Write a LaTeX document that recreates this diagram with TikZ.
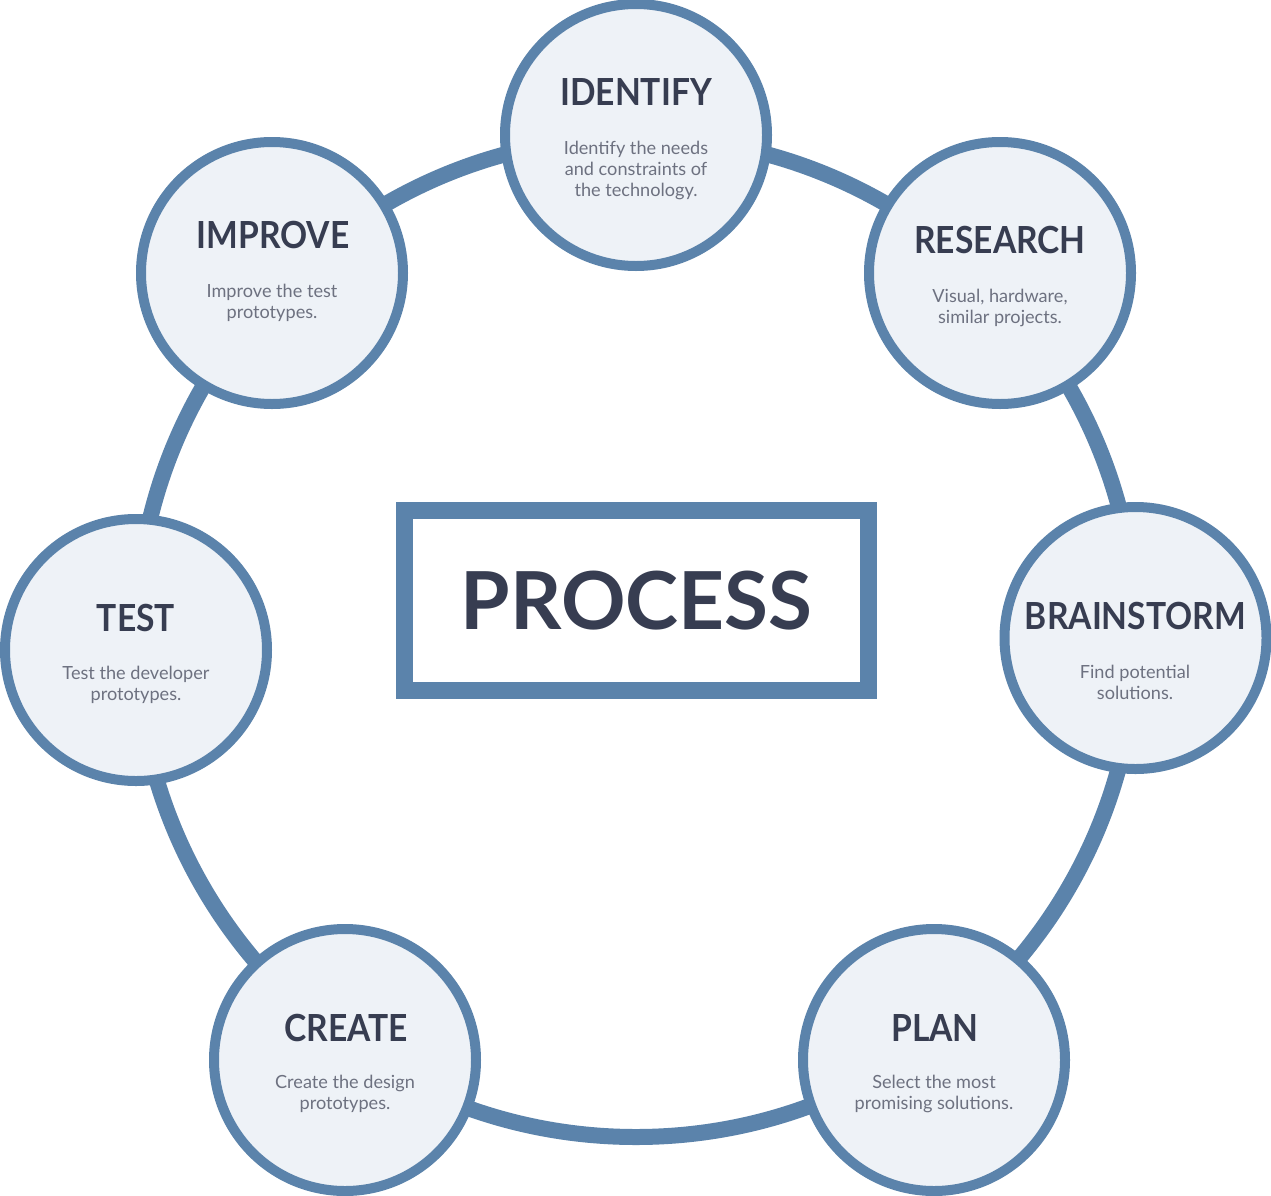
\documentclass[tikz,border=0pt]{standalone}
\usepackage{fontspec}
\setmainfont{Lato}
\newfontfamily\stagefont{Lato}[FakeStretch=0.9]
\definecolor{ringblue}{HTML}{5B83AB}
\definecolor{stagefill}{HTML}{EEF2F7}
\definecolor{titlegray}{HTML}{373D51}
\definecolor{bodygray}{HTML}{6D7180}
\tikzstyle{ring} = [draw=ringblue, line width=12pt]
\tikzstyle{stage} = [draw=ringblue, fill=stagefill, shape=circle, line width=7.5pt, minimum size=196.5pt, inner sep=0pt]
\tikzstyle{title} = [anchor=base, text=titlegray, font=\stagefont\bfseries\fontsize{28}{30}\selectfont, inner sep=0pt]
\tikzstyle{body} = [anchor=base, text=bodygray, align=center, font=\fontsize{13.6}{15.75}\selectfont, inner sep=0pt]
\tikzstyle{frame} = [draw=ringblue, line width=12.75pt, minimum width=348pt, minimum height=135pt, text=titlegray, font=\bfseries\fontsize{60}{60}\selectfont]

\begin{document}
\begin{tikzpicture}[x=0.75pt, y=-0.75pt]
    \useasboundingbox (0,0) rectangle (1271,1196);
    \coordinate (hub) at (636,637);
    \draw[ring] (hub) circle (500);
    \draw (636.5,600.5) node[frame] (process) {PROCESS};
    % stages round the ring
    \draw (636,135) node[stage] (identify) {};
    \draw (1000,273) node[stage] (research) {};
    \draw (1135.5,638) node[stage] (brainstorm) {};
    \draw (934,1060) node[stage] (plan) {};
    \draw (345,1060) node[stage] (create) {};
    \draw (136,650) node[stage] (test) {};
    \draw (272,273) node[stage] (improve) {};
    % titles
    \node[title] (identify-t) at (636,105) {IDENTIFY};
    \node[title] (research-t) at (1000,253) {RESEARCH};
    \node[title] (brainstorm-t) at (1135.5,629) {BRAINSTORM};
    \node[title] (plan-t) at (935,1041) {PLAN};
    \node[title] (create-t) at (346,1041) {CREATE};
    \node[title] (test-t) at (136,631) {TEST};
    \node[title] (improve-t) at (273,248) {IMPROVE};
    % descriptions (base is the last line)
    \node[body] (identify-b) at (636,196) {Identify the needs\\and constraints of\\the technology.};
    \node[body] (research-b) at (1000,323) {Visual, hardware,\\similar projects.};
    \node[body] (brainstorm-b) at (1135,699) {Find potential\\solutions.};
    \node[body] (plan-b) at (934,1109) {Select the most\\promising solutions.};
    \node[body] (create-b) at (345,1109) {Create the design\\prototypes.};
    \node[body] (test-b) at (136,700) {Test the developer\\prototypes.};
    \node[body] (improve-b) at (272,318) {Improve the test\\prototypes.};
\end{tikzpicture}
\end{document}
